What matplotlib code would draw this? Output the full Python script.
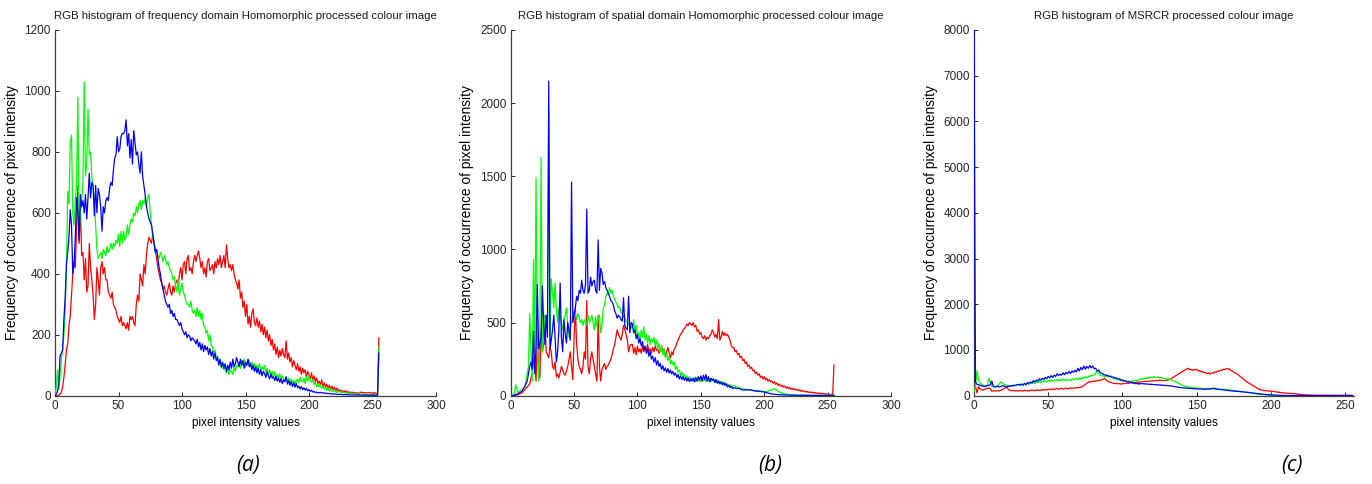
"""RGB histograms of three processed colour images, side by side (MATLAB look)."""

import numpy as np
import matplotlib
matplotlib.use('Agg')
import matplotlib.pyplot as plt

plt.rcParams['font.family'] = ['Liberation Sans', 'DejaVu Sans']

# pixel intensity bins 0..255
intensity = np.arange(256)

# (a) frequency domain homomorphic
freq_red = [
    0, 0, 0, 2, 5, 10, 30, 60, 100, 150, 170, 230, 260, 330, 400, 440,
    420, 560, 690, 500, 620, 460, 470, 380, 450, 340, 360, 500, 420, 380, 330, 250,
    300, 420, 380, 330, 420, 440, 400, 420, 380, 380, 340, 330, 320, 340, 300, 290,
    280, 260, 250, 240, 260, 230, 240, 230, 220, 240, 215, 260, 250, 260, 240, 230,
    300, 330, 310, 400, 380, 360, 430, 400, 460, 500, 520, 510, 500, 530, 500, 480,
    450, 420, 400, 380, 370, 350, 360, 340, 330, 350, 370, 340, 330, 360, 340, 370,
    380, 360, 400, 420, 380, 430, 440, 400, 450, 460, 410, 420, 400, 440, 460, 440,
    460, 475, 450, 420, 440, 400, 420, 390, 440, 450, 410, 420, 430, 400, 440, 420,
    450, 430, 460, 420, 440, 460, 420, 495, 450, 420, 430, 410, 430, 400, 380, 370,
    350, 380, 320, 340, 290, 310, 260, 300, 235, 260, 225, 270, 285, 240, 230, 255,
    225, 245, 210, 235, 200, 225, 190, 215, 180, 200, 165, 185, 150, 170, 135, 160,
    125, 150, 130, 155, 135, 125, 180, 120, 140, 110, 125, 95, 115, 100, 85, 105,
    80, 95, 70, 90, 75, 85, 60, 80, 70, 55, 75, 50, 65, 45, 58, 40,
    48, 35, 52, 30, 42, 28, 38, 22, 35, 20, 32, 18, 28, 16, 25, 15,
    20, 13, 18, 12, 16, 10, 15, 9, 13, 8, 12, 7, 11, 8, 10, 6,
    10, 12, 9, 11, 8, 10, 9, 11, 8, 10, 9, 8, 10, 7, 9, 190,
]
freq_green = [
    0, 30, 85, 20, 60, 120, 150, 200, 280, 420, 670, 630, 830, 855, 600, 560,
    640, 700, 980, 520, 600, 640, 700, 1030, 720, 760, 940, 790, 800, 720, 680, 640,
    560, 480, 450, 460, 470, 450, 480, 470, 460, 490, 470, 480, 500, 480, 500, 490,
    510, 500, 530, 490, 540, 500, 540, 510, 520, 560, 530, 560, 580, 570, 600, 590,
    620, 600, 630, 640, 610, 640, 630, 650, 620, 650, 660, 600, 560, 520, 500, 470,
    480, 460, 450, 470, 460, 440, 460, 450, 430, 440, 420, 410, 400, 380, 390, 360,
    340, 380, 330, 350, 370, 340, 330, 310, 300, 300, 290, 310, 280, 270, 280, 260,
    290, 260, 280, 250, 270, 230, 225, 205, 215, 180, 200, 165, 160, 140, 150, 125,
    130, 105, 115, 90, 100, 85, 95, 75, 90, 70, 85, 80, 70, 95, 80, 100,
    95, 110, 90, 115, 100, 120, 95, 110, 100, 115, 95, 110, 90, 105, 85, 100,
    90, 105, 80, 95, 85, 100, 75, 90, 70, 85, 65, 80, 60, 78, 55, 70,
    60, 72, 50, 65, 55, 48, 62, 45, 58, 40, 55, 42, 50, 38, 48, 55,
    42, 60, 48, 45, 58, 40, 62, 48, 65, 50, 44, 52, 36, 45, 30, 38,
    28, 35, 24, 32, 22, 28, 18, 25, 16, 22, 14, 20, 12, 17, 10, 14,
    14, 12, 10, 12, 9, 10, 8, 9, 7, 8, 6, 7, 5, 6, 5, 6,
    4, 5, 4, 5, 3, 4, 3, 4, 3, 4, 3, 3, 2, 3, 2, 160,
]
freq_blue = [
    0, 5, 15, 40, 130, 140, 150, 250, 320, 430, 470, 520, 610, 560, 400, 430,
    520, 650, 600, 510, 660, 620, 640, 600, 660, 580, 650, 730, 650, 700, 690, 590,
    690, 600, 680, 660, 620, 540, 620, 600, 640, 650, 640, 680, 700, 690, 740, 780,
    790, 850, 800, 810, 850, 860, 860, 870, 905, 820, 860, 780, 840, 760, 870, 830,
    790, 800, 760, 730, 800, 720, 690, 660, 620, 600, 580, 570, 560, 530, 500, 470,
    480, 450, 420, 400, 370, 350, 330, 310, 300, 290, 300, 270, 280, 260, 270, 250,
    250, 240, 230, 240, 220, 210, 200, 210, 190, 200, 195, 180, 190, 185, 180, 170,
    185, 160, 175, 150, 170, 145, 165, 150, 160, 135, 155, 130, 145, 120, 140, 115,
    125, 100, 120, 95, 110, 90, 105, 80, 100, 85, 110, 90, 120, 95, 105, 125,
    110, 95, 120, 100, 115, 90, 110, 100, 120, 95, 105, 85, 100, 80, 95, 75,
    90, 70, 85, 65, 80, 72, 60, 78, 65, 55, 72, 58, 62, 50, 64, 48,
    58, 44, 56, 40, 52, 46, 62, 38, 50, 34, 46, 30, 42, 28, 40, 26,
    32, 22, 30, 20, 26, 18, 24, 16, 20, 14, 18, 12, 14, 10, 12, 9,
    10, 11, 9, 10, 8, 9, 7, 8, 6, 7, 6, 5, 6, 5, 4, 5,
    4, 5, 4, 3, 4, 3, 4, 3, 2, 3, 2, 3, 2, 2, 3, 2,
    2, 2, 1, 2, 2, 1, 2, 1, 2, 1, 2, 1, 1, 2, 1, 140,
]

# (b) spatial domain homomorphic
spat_red = [
    0, 0, 0, 0, 2, 5, 8, 12, 15, 20, 30, 40, 50, 60, 70, 80,
    120, 150, 250, 200, 100, 400, 200, 120, 450, 300, 350, 550, 300, 280, 260, 330,
    300, 200, 180, 230, 130, 150, 120, 160, 200, 180, 150, 140, 170, 200, 250, 300,
    200, 110, 400, 600, 350, 250, 200, 180, 150, 200, 300, 250, 650, 200, 150, 250,
    300, 250, 200, 150, 100, 550, 200, 100, 180, 200, 220, 180, 200, 210, 230, 250,
    280, 320, 350, 400, 450, 420, 400, 380, 420, 480, 450, 420, 380, 300, 340, 350,
    350, 290, 330, 280, 340, 300, 320, 290, 340, 300, 330, 310, 350, 300, 320, 290,
    330, 300, 340, 310, 320, 290, 310, 340, 300, 320, 270, 300, 330, 290, 260, 300,
    280, 320, 330, 360, 380, 400, 420, 430, 450, 460, 470, 490, 480, 500, 490, 480,
    500, 470, 480, 440, 450, 420, 430, 400, 390, 410, 380, 400, 390, 410, 420, 450,
    430, 400, 420, 390, 520, 380, 400, 440, 410, 430, 410, 420, 400, 380, 340, 330,
    330, 300, 310, 280, 290, 260, 270, 240, 250, 220, 230, 200, 210, 185, 195, 170,
    175, 150, 160, 140, 150, 125, 135, 115, 130, 108, 120, 100, 110, 95, 100, 85,
    95, 78, 88, 70, 80, 64, 72, 58, 66, 52, 60, 48, 56, 44, 52, 40,
    48, 38, 44, 34, 40, 30, 36, 28, 32, 24, 30, 22, 26, 20, 24, 18,
    22, 16, 20, 14, 18, 13, 16, 12, 14, 10, 12, 9, 10, 8, 8, 210,
]
spat_green = [
    0, 5, 10, 20, 75, 40, 20, 30, 40, 30, 50, 60, 100, 150, 200, 560,
    300, 100, 930, 300, 1490, 300, 100, 400, 1630, 300, 400, 550, 500, 480, 1950, 350,
    800, 700, 600, 770, 600, 500, 600, 550, 500, 450, 520, 550, 600, 480, 400, 450,
    500, 550, 580, 560, 520, 560, 540, 500, 520, 480, 520, 500, 480, 550, 500, 520,
    550, 500, 450, 540, 470, 520, 550, 430, 480, 600, 620, 680, 700, 690, 740, 700,
    720, 680, 660, 640, 620, 600, 610, 570, 560, 540, 530, 510, 500, 490, 480, 470,
    460, 520, 430, 480, 400, 430, 380, 450, 400, 470, 380, 420, 360, 410, 350, 390,
    370, 400, 340, 380, 320, 360, 300, 340, 280, 320, 260, 290, 240, 270, 220, 240,
    210, 230, 180, 200, 160, 175, 140, 160, 125, 145, 115, 135, 110, 130, 105, 120,
    100, 120, 95, 115, 100, 120, 95, 110, 100, 115, 95, 120, 100, 110, 95, 115,
    100, 110, 90, 105, 85, 100, 80, 95, 75, 90, 70, 80, 65, 75, 60, 68,
    68, 65, 60, 58, 55, 52, 50, 48, 45, 44, 42, 40, 42, 38, 40, 36,
    38, 34, 36, 32, 34, 30, 32, 30, 28, 30, 28, 32, 35, 40, 38, 45,
    48, 42, 36, 30, 25, 20, 18, 15, 14, 12, 10, 9, 8, 8, 7, 6,
    6, 5, 5, 4, 4, 5, 4, 3, 4, 3, 4, 3, 3, 4, 3, 3,
    3, 2, 3, 2, 3, 2, 2, 3, 2, 2, 3, 2, 2, 3, 2, 10,
]
spat_blue = [
    0, 0, 2, 5, 8, 10, 15, 20, 25, 30, 50, 60, 80, 100, 150, 200,
    230, 180, 440, 150, 340, 760, 320, 360, 400, 750, 480, 350, 550, 400, 2150, 320,
    380, 450, 550, 400, 230, 300, 450, 770, 400, 300, 520, 420, 360, 500, 450, 380,
    1460, 500, 550, 600, 680, 650, 720, 700, 790, 720, 700, 760, 1275, 700, 720, 810,
    750, 780, 790, 720, 700, 1065, 720, 870, 840, 760, 780, 740, 720, 700, 680, 650,
    640, 620, 580, 560, 530, 550, 540, 520, 510, 670, 480, 460, 450, 680, 430, 500,
    490, 430, 450, 390, 420, 360, 390, 340, 370, 310, 340, 290, 320, 270, 300, 250,
    270, 230, 260, 210, 240, 200, 220, 180, 205, 170, 190, 160, 185, 155, 175, 150,
    165, 140, 155, 125, 145, 115, 135, 110, 130, 105, 125, 100, 120, 95, 115, 100,
    120, 95, 125, 100, 130, 105, 135, 100, 140, 110, 145, 100, 130, 95, 120, 105,
    115, 90, 110, 85, 100, 80, 95, 75, 90, 70, 82, 60, 72, 55, 65, 50,
    55, 52, 50, 48, 50, 45, 42, 40, 38, 40, 38, 42, 40, 38, 40, 35,
    34, 32, 30, 32, 28, 30, 26, 28, 25, 22, 20, 18, 16, 14, 12, 11,
    10, 9, 8, 8, 7, 6, 6, 5, 5, 5, 4, 4, 4, 3, 3, 3,
    3, 3, 2, 3, 2, 3, 2, 2, 3, 2, 2, 2, 3, 2, 2, 2,
    2, 2, 2, 1, 2, 2, 1, 2, 2, 1, 2, 1, 2, 1, 2, 2,
]

# (c) MSRCR
msr_red = [
    100, 200, 60, 200, 150, 130, 120, 140, 150, 160, 170, 150, 100, 110, 100, 105,
    110, 100, 120, 130, 150, 170, 200, 140, 120, 110, 115, 110, 105, 110, 100, 110,
    110, 100, 120, 105, 115, 100, 125, 110, 120, 105, 130, 115, 125, 110, 135, 120,
    140, 125, 145, 130, 140, 150, 135, 145, 160, 140, 150, 165, 145, 155, 170, 150,
    160, 165, 170, 160, 175, 170, 180, 175, 190, 200, 220, 250, 270, 290, 310, 300,
    320, 310, 330, 320, 340, 330, 350, 360, 380, 340, 320, 300, 290, 280, 270, 265,
    270, 260, 265, 255, 260, 270, 265, 275, 270, 280, 285, 290, 280, 295, 300, 290,
    300, 310, 305, 315, 310, 320, 315, 325, 320, 330, 325, 335, 330, 340, 335, 330,
    335, 330, 340, 350, 360, 380, 400, 420, 440, 460, 480, 500, 520, 540, 560, 580,
    600, 570, 580, 550, 575, 560, 580, 540, 550, 520, 530, 500, 510, 480, 500, 470,
    500, 490, 520, 510, 540, 530, 560, 550, 580, 570, 600, 580, 590, 550, 540, 510,
    500, 480, 460, 430, 400, 380, 350, 320, 300, 280, 260, 240, 220, 200, 180, 160,
    140, 130, 120, 115, 110, 108, 105, 100, 100, 95, 90, 85, 80, 75, 70, 65,
    62, 60, 58, 55, 52, 50, 48, 45, 42, 40, 38, 35, 30, 25, 20, 18,
    16, 15, 14, 13, 12, 12, 11, 11, 10, 10, 10, 10, 10, 10, 10, 10,
    10, 10, 10, 10, 10, 10, 10, 10, 10, 10, 10, 10, 10, 10, 10, 10,
]
msr_green = [
    100, 200, 550, 350, 280, 250, 230, 220, 210, 230, 380, 300, 200, 210, 200, 190,
    220, 260, 300, 280, 250, 240, 230, 220, 210, 220, 230, 220, 230, 240, 230, 240,
    260, 230, 270, 240, 280, 250, 290, 260, 300, 270, 310, 280, 330, 290, 320, 300,
    330, 300, 340, 310, 350, 320, 340, 330, 360, 320, 350, 330, 370, 330, 360, 340,
    350, 330, 370, 340, 360, 380, 350, 390, 360, 400, 380, 420, 390, 430, 410, 450,
    440, 460, 500, 540, 480, 450, 430, 440, 420, 430, 410, 420, 400, 390, 380, 370,
    360, 350, 340, 330, 320, 330, 320, 310, 320, 310, 320, 330, 320, 340, 330, 350,
    350, 370, 360, 390, 370, 400, 380, 410, 390, 420, 400, 395, 410, 385, 400, 375,
    380, 370, 360, 370, 350, 340, 330, 320, 300, 290, 270, 250, 230, 220, 210, 200,
    195, 190, 185, 180, 175, 170, 168, 165, 162, 160, 158, 155, 152, 150, 148, 150,
    145, 150, 148, 145, 150, 145, 142, 140, 138, 140, 135, 132, 128, 125, 120, 115,
    110, 105, 100, 95, 90, 85, 80, 75, 70, 65, 60, 55, 50, 45, 40, 36,
    32, 28, 24, 20, 18, 16, 14, 12, 10, 9, 8, 7, 6, 5, 5, 4,
    4, 3, 3, 3, 2, 2, 2, 2, 2, 2, 2, 2, 1, 1, 1, 1,
    1, 1, 1, 1, 1, 1, 1, 1, 1, 1, 1, 1, 1, 1, 1, 1,
    1, 1, 1, 1, 1, 1, 1, 1, 1, 1, 1, 1, 1, 1, 1, 1,
]
msr_blue = [
    8000, 300, 250, 240, 230, 220, 210, 200, 210, 220, 230, 240, 320, 200, 190, 200,
    210, 190, 200, 220, 210, 200, 190, 210, 200, 220, 210, 230, 220, 240, 250, 230,
    250, 230, 270, 240, 290, 260, 300, 280, 330, 300, 340, 320, 370, 340, 380, 350,
    400, 370, 420, 390, 440, 400, 450, 420, 480, 440, 470, 450, 500, 460, 510, 480,
    530, 490, 540, 510, 560, 520, 600, 540, 620, 570, 650, 580, 640, 600, 660, 610,
    650, 590, 600, 540, 560, 500, 490, 470, 460, 440, 450, 420, 430, 400, 410, 380,
    390, 360, 370, 340, 350, 320, 330, 300, 310, 285, 300, 270, 285, 260, 275, 250,
    270, 260, 265, 255, 260, 250, 255, 245, 250, 240, 245, 235, 240, 230, 235, 225,
    230, 220, 225, 215, 220, 210, 205, 200, 195, 190, 185, 180, 175, 170, 168, 165,
    162, 160, 158, 155, 152, 150, 148, 150, 145, 148, 142, 145, 140, 150, 145, 150,
    155, 160, 165, 150, 145, 140, 135, 130, 128, 125, 120, 115, 110, 108, 105, 100,
    98, 95, 92, 90, 88, 85, 82, 80, 76, 72, 68, 64, 60, 55, 50, 45,
    42, 38, 35, 32, 28, 25, 22, 20, 18, 16, 14, 12, 10, 9, 8, 7,
    6, 5, 5, 4, 4, 3, 3, 3, 2, 2, 2, 2, 2, 2, 2, 2,
    2, 2, 2, 1, 1, 1, 1, 1, 1, 1, 1, 1, 1, 1, 1, 1,
    1, 1, 1, 1, 1, 1, 1, 1, 1, 1, 1, 1, 1, 1, 1, 1,
]

titles = [
    'RGB histogram of frequency domain Homomorphic processed colour image',
    'RGB histogram of spatial domain Homomorphic processed colour image',
    'RGB histogram of MSRCR processed colour image',
]
panel_tags = ['(a)', '(b)', '(c)']
ylims = [1200, 2500, 8000]
ysteps = [200, 500, 1000]
xlims = [300, 300, 256]

panels = [
    (freq_red, freq_green, freq_blue),
    (spat_red, spat_green, spat_blue),
    (msr_red, msr_green, msr_blue),
]

W, H = 1372, 484
fig = plt.figure(figsize=(W / 100, H / 100), dpi=100)

lefts = [55, 510.7, 974]
widths = [381, 380.3, 380]
bottom_px, top_px = 395.7, 30
tag_x = [248, 770, 1292]

for i, (reds, greens, blues) in enumerate(panels):
    ax = fig.add_axes([lefts[i] / W, 1 - bottom_px / H,
                       widths[i] / W, (bottom_px - top_px) / H])
    # lines over the spines, as in the MATLAB export
    ax.plot(intensity, reds, color='#ff0000', lw=0.9, zorder=3)
    ax.plot(intensity, greens, color='#00ff00', lw=0.9, zorder=3)
    ax.plot(intensity, blues, color='#0000ff', lw=0.9, zorder=3)

    ax.set_xlim(0, xlims[i])
    ax.set_ylim(0, ylims[i])
    ax.set_xticks(np.arange(0, xlims[i] + 1, 50))
    ax.set_yticks(np.arange(0, ylims[i] + 1, ysteps[i]))
    for side in ('top', 'right'):
        ax.spines[side].set_visible(False)
    for side in ('left', 'bottom'):
        ax.spines[side].set_color('#404040')
        ax.spines[side].set_linewidth(0.9)
    ax.tick_params(direction='in', length=3, width=0.7, pad=3,
                   labelsize=8.5, colors='#262626')

    ax.set_title(titles[i], fontsize=8.2, pad=8, color='#1a1a1a')
    ax.set_xlabel('pixel intensity values', fontsize=8.5, labelpad=4)
    ax.set_ylabel('Frequency of occurrence of pixel intensity', fontsize=9.9,
                  labelpad=4)

    fig.text(tag_x[i] / W, 1 - 465 / H, panel_tags[i], fontsize=15,
             style='italic', family=['Open Sans', 'DejaVu Sans'],
             ha='center', va='center')

fig.savefig('out.png', dpi=100)
plt.close(fig)
